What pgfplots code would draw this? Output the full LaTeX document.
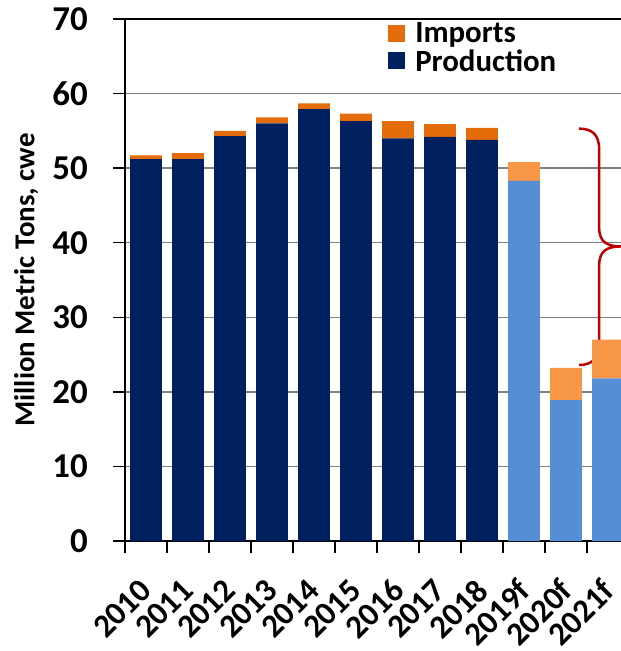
\documentclass[border=0pt]{standalone}
\usepackage{pgfplots}
\usepackage{pgfplotstable}
\pgfplotsset{compat=1.18}
\usepackage{fontspec}
\setmainfont{Carlito}
\definecolor{navy}{HTML}{002060}
\definecolor{orng}{HTML}{E46C0A}
\definecolor{lblue}{HTML}{558ED5}
\definecolor{lorng}{HTML}{F79646}
\definecolor{bracered}{HTML}{C00000}
\pgfplotstableread{
x prod prodf imp impf
0 51.2 0 0.5 0
1 51.2 0 0.8 0
2 54.3 0 0.7 0
3 56.0 0 0.8 0
4 57.9 0 0.8 0
5 56.3 0 1.0 0
6 54.0 0 2.3 0
7 54.2 0 1.7 0
8 53.8 0 1.6 0
9 0 48.3 0 2.5
10 0 18.9 0 4.3
11 0 21.8 0 5.2
}\data
\begin{document}
\begin{tikzpicture}
\useasboundingbox (-125bp,-110bp) rectangle (496bp,541bp);
\begin{axis}[
  at={(0,0)}, anchor=south west,
  scale only axis, width=504bp, height=522bp,
  xmin=-0.5, xmax=11.5, ymin=0, ymax=70,
  clip=false,
  ybar stacked, bar width=0.76,
  axis x line*=bottom, axis y line*=left,
  axis line style={black, line width=1.5bp},
  xtick={-0.5,0.5,...,11.5},
  x tick label as interval,
  xticklabels={2010,2011,2012,2013,2014,2015,2016,2017,2018,2019f,2020f,2021f},
  ytick={0,10,...,70},
  tick align=outside,
  major tick length=12bp,
  tick style={black, line width=1.5bp},
  ymajorgrids, major grid style={gray, line width=1.5bp},
  /pgf/number format/assume math mode=true,
  yticklabel style={font=\bfseries\fontsize{35}{35}\selectfont, inner sep=0pt, anchor=east, xshift=-25bp},
  xticklabel style={font=\bfseries\fontsize{33}{33}\selectfont, inner sep=0pt, xshift=-8bp, yshift=-24bp, rotate=45, anchor=north east},
  ylabel={Million Metric Tons, cwe},
  every axis y label/.style={at={(axis description cs:-0.196,0.5)}, rotate=90, anchor=center, font=\bfseries\fontsize{29}{29}\selectfont},
  legend style={at={(axis description cs:0.522,0.995)}, anchor=north west, draw=none, fill=white, font=\bfseries\fontsize{31}{31}\selectfont, inner sep=0pt, row sep=3bp, nodes={inner sep=1bp}, cells={anchor=west}, /tikz/every odd column/.append style={column sep=9bp}},
  legend image code/.code={\fill[#1] (0bp,-8bp) rectangle (17bp,9bp);},
  reverse legend,
]
\addplot[fill=navy, draw=none] table[x=x, y=prod] {\data};
\addlegendentry{Production}
\addplot[fill=lblue, draw=none, forget plot] table[x=x, y=prodf] {\data};
\addplot[fill=orng, draw=none] table[x=x, y=imp] {\data};
\addlegendentry{Imports}
\addplot[fill=lorng, draw=none, forget plot] table[x=x, y=impf] {\data};
\draw[black, line width=2.5bp] (axis cs:-0.5,70) -- (axis cs:11.5,70);
\draw[bracered, line width=2.5bp] (axis cs:10.31,55.3) .. controls (axis cs:10.62,55.3) and (axis cs:10.79,54.5) .. (axis cs:10.79,52.5) -- (axis cs:10.79,42.0) .. controls (axis cs:10.79,40.0) and (axis cs:11.0,39.5) .. (axis cs:11.31,39.5) .. controls (axis cs:11.0,39.5) and (axis cs:10.79,39.0) .. (axis cs:10.79,37.0) -- (axis cs:10.79,26.5) .. controls (axis cs:10.79,24.5) and (axis cs:10.62,23.6) .. (axis cs:10.31,23.6);
\end{axis}
\end{tikzpicture}
\end{document}
